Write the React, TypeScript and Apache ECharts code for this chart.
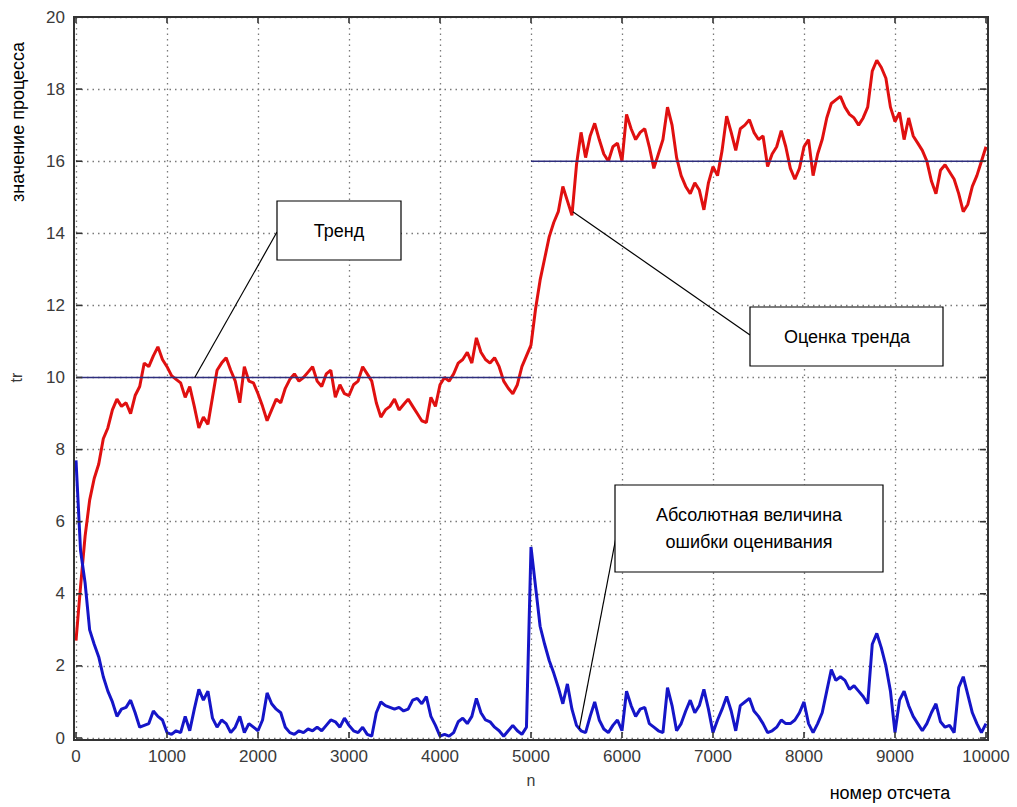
import React, { useEffect, useRef } from "react";
import * as echarts from "echarts";

const STEP = 50;
const trendEstimate = [
  2.7, 4.2, 5.6, 6.6, 7.2, 7.6, 8.3, 8.6, 9.1, 9.4,
  9.2, 9.3, 9.0, 9.5, 9.75, 10.4, 10.3, 10.6, 10.85, 10.5,
  10.3, 10.05, 9.95, 9.85, 9.45, 9.75, 9.2, 8.6, 8.9, 8.7,
  9.45, 10.2, 10.4, 10.55, 10.2, 9.9, 9.3, 10.3, 9.9, 9.85,
  9.55, 9.2, 8.8, 9.1, 9.4, 9.3, 9.7, 9.95, 10.1, 9.9,
  10.0, 10.15, 10.3, 9.9, 9.75, 10.1, 10.2, 9.45, 9.8, 9.55,
  9.5, 9.8, 9.9, 10.3, 10.1, 9.9, 9.3, 8.9, 9.1, 9.2,
  9.4, 9.1, 9.25, 9.4, 9.2, 9.0, 8.8, 8.75, 9.45, 9.2,
  9.8, 10.0, 9.9, 10.1, 10.4, 10.5, 10.7, 10.4, 11.1, 10.7,
  10.5, 10.4, 10.55, 10.3, 9.9, 9.7, 9.55, 9.8, 10.3, 10.6,
  10.9, 11.9, 12.7, 13.3, 13.9, 14.3, 14.6, 15.3, 14.9, 14.5,
  15.9, 16.8, 16.1, 16.7, 17.05, 16.6, 16.2, 16.0, 16.4, 16.5,
  16.0, 17.3, 16.9, 16.6, 16.8, 16.9, 16.4, 15.8, 16.2, 16.6,
  17.5, 17.0, 16.1, 15.6, 15.3, 15.1, 15.4, 15.2, 14.65, 15.4,
  15.85, 15.6, 16.3, 17.25, 16.8, 16.3, 16.9, 17.0, 17.15, 16.8,
  16.6, 16.7, 15.85, 16.2, 16.4, 16.85, 16.4, 15.8, 15.5, 15.8,
  16.4, 16.6, 15.6, 16.2, 16.6, 17.2, 17.6, 17.7, 17.8, 17.5,
  17.3, 17.2, 17.0, 17.2, 17.5, 18.5, 18.8, 18.6, 18.3, 17.5,
  17.1, 17.35, 16.6, 17.2, 16.7, 16.5, 16.3, 16.0, 15.45, 15.1,
  15.75, 15.9, 15.7, 15.5, 15.1, 14.6, 14.8, 15.3, 15.6, 16.0,
  16.4,
];
const absError = [
  7.7, 5.2, 4.3, 3.0, 2.6, 2.25, 1.7, 1.3, 1.0, 0.6,
  0.8, 0.85, 1.05, 0.7, 0.3, 0.35, 0.4, 0.75, 0.6, 0.5,
  0.15, 0.1, 0.2, 0.15, 0.6, 0.2, 0.8, 1.35, 1.05, 1.3,
  0.55, 0.3, 0.5, 0.4, 0.15, 0.3, 0.6, 0.15, 0.4, 0.3,
  0.2, 0.5, 1.25, 0.95, 0.8, 0.7, 0.3, 0.15, 0.1, 0.2,
  0.15, 0.25, 0.2, 0.3, 0.2, 0.35, 0.5, 0.45, 0.3, 0.55,
  0.35, 0.2, 0.15, 0.3, 0.1, 0.05, 0.7, 1.0, 0.9, 0.85,
  0.8, 0.85, 0.75, 0.8, 1.05, 1.1, 0.95, 1.15, 0.6, 0.35,
  0.05, 0.1, 0.05, 0.15, 0.45, 0.55, 0.4, 0.6, 1.1, 0.7,
  0.5, 0.45, 0.3, 0.2, 0.05, 0.2, 0.35, 0.2, 0.1, 0.3,
  5.3, 4.2, 3.1, 2.6, 2.15, 1.8, 1.4, 0.95, 1.5, 0.8,
  0.35, 0.2, 0.15, 0.6, 1.0, 0.5, 0.25, 0.15, 0.35, 0.5,
  0.2, 1.3, 0.9, 0.6, 0.8, 0.85, 0.4, 0.3, 0.2, 0.15,
  1.4, 0.9, 0.2, 0.4, 0.75, 1.05, 0.7, 0.9, 1.35, 0.8,
  0.15, 0.5, 0.8, 1.15, 0.75, 0.2, 0.9, 1.0, 1.1, 0.75,
  0.6, 0.4, 0.15, 0.2, 0.3, 0.5, 0.4, 0.4, 0.5, 0.7,
  1.0, 0.4, 0.15, 0.4, 0.7, 1.3, 1.9, 1.6, 1.7, 1.6,
  1.35, 1.45, 1.3, 1.15, 0.95, 2.6, 2.9, 2.5, 2.0, 1.3,
  0.15, 1.05, 1.3, 0.9, 0.6, 0.4, 0.2, 0.4, 0.7, 0.95,
  0.45, 0.3, 0.35, 0.15, 1.4, 1.7, 1.2, 0.7, 0.4, 0.15,
  0.4,
];
const trendLevelsX = [0, 5000, 5000, 10000];
const trendLevelsY = [10, 10, 16, 16];
const xTicks = [0, 1000, 2000, 3000, 4000, 5000, 6000, 7000, 8000, 9000, 10000];
const yTicks = [0, 2, 4, 6, 8, 10, 12, 14, 16, 18, 20];

const FONT = "'Liberation Sans', Arial, sans-serif";
const FRAME = "#333333";
const GRID = { left: 74, top: 17, right: 31, bottom: 69 };
const W = 1017;
const H = 807;

export default function App() {
  const ref = useRef<HTMLDivElement>(null);
  useEffect(() => {
    if (!ref.current) return;
    const chart = echarts.init(ref.current, null, { renderer: "svg" });
    const est = trendEstimate.map((v, i) => [i * STEP, v]);
    const err = absError.map((v, i) => [i * STEP, v]);
    const trend1 = [
      [trendLevelsX[0], trendLevelsY[0]],
      [trendLevelsX[1], trendLevelsY[1]],
    ];
    const trend2 = [
      [trendLevelsX[2], trendLevelsY[2]],
      [trendLevelsX[3], trendLevelsY[3]],
    ];
    const xMax = xTicks[xTicks.length - 1];
    const xStep = xTicks[1] - xTicks[0];
    const yMax = yTicks[yTicks.length - 1];
    const yStep = yTicks[1] - yTicks[0];
    const axisLabel = { color: "#3a3a3a", fontSize: 17, fontFamily: FONT, formatter: (v: number) => String(v) };
    const splitLine = { show: true, lineStyle: { color: "#7a7a7a", type: [1.5, 4] as any, width: 1.3 } };

    const frameRender = (_params: any, api: any) => {
      const a = api.coord([0, 0]);
      const b = api.coord([xMax, yMax]);
      const TL = 6;
      const ls = { stroke: FRAME, lineWidth: 1.6, fill: null };
      const children: any[] = [];
      xTicks.forEach((t) => {
        const px = api.coord([t, 0])[0];
        children.push({ type: "line", shape: { x1: px, y1: a[1], x2: px, y2: a[1] - TL }, style: ls });
        children.push({ type: "line", shape: { x1: px, y1: b[1], x2: px, y2: b[1] + TL }, style: ls });
      });
      yTicks.forEach((t) => {
        const py = api.coord([0, t])[1];
        children.push({ type: "line", shape: { x1: a[0], y1: py, x2: a[0] + TL, y2: py }, style: ls });
        children.push({ type: "line", shape: { x1: b[0], y1: py, x2: b[0] - TL, y2: py }, style: ls });
      });
      return { type: "group", children };
    };

    chart.setOption({
      animation: false,
      backgroundColor: "#ffffff",
      grid: { ...GRID, containLabel: false },
      xAxis: {
        type: "value",
        min: 0,
        max: xMax,
        interval: xStep,
        name: "n",
        nameLocation: "middle",
        nameGap: 34,
        nameTextStyle: { color: "#3a3a3a", fontSize: 16, fontFamily: FONT },
        axisLine: { show: false },
        axisTick: { show: false },
        splitLine,
        axisLabel: { ...axisLabel, margin: 10 },
      },
      yAxis: {
        type: "value",
        min: 0,
        max: yMax,
        interval: yStep,
        name: "tr",
        nameLocation: "middle",
        nameGap: 52,
        nameTextStyle: { color: "#3a3a3a", fontSize: 16, fontFamily: FONT },
        axisLine: { show: false },
        axisTick: { show: false },
        splitLine,
        axisLabel: { ...axisLabel, margin: 11 },
      },
      series: [
        { type: "line", data: est, showSymbol: false, lineStyle: { color: "#e01010", width: 3 }, z: 3 },
        { type: "line", data: err, showSymbol: false, lineStyle: { color: "#1515c8", width: 3 }, z: 3 },
        { type: "line", data: trend1, showSymbol: false, lineStyle: { color: "#2e2e7e", width: 1.6 }, z: 4 },
        { type: "line", data: trend2, showSymbol: false, lineStyle: { color: "#2e2e7e", width: 1.6 }, z: 4 },
        {
          type: "custom",
          data: [[xMax / 2, yMax / 2]],
          renderItem: frameRender,
          clip: false,
          silent: true,
          z: 20,
        },
      ],
    });

    const toPx = (x: number, y: number) => chart.convertToPixel({ gridIndex: 0 }, [x, y]) as number[];
    const p1 = toPx(1305, 10);
    const p2 = toPx(5460, 14.6);
    const p3 = toPx(5530, 0.25);
    const boxStyle = { fill: "#ffffff", stroke: "#000000", lineWidth: 1.2 };
    const txt = { fill: "#000000", fontSize: 18, fontFamily: FONT, align: "center", verticalAlign: "middle" };
    chart.setOption({
      graphic: [
        { type: "line", shape: { x1: 277, y1: 232, x2: p1[0], y2: p1[1] }, style: { stroke: "#000", lineWidth: 1.2 }, z: 30 },
        { type: "rect", shape: { x: 277, y: 201, width: 124, height: 59 }, style: boxStyle, z: 31 },
        { type: "text", x: 339, y: 231, style: { ...txt, text: "Тренд" }, z: 32 },

        { type: "line", shape: { x1: 750, y1: 335, x2: p2[0], y2: p2[1] }, style: { stroke: "#000", lineWidth: 1.2 }, z: 30 },
        { type: "rect", shape: { x: 750, y: 307, width: 193, height: 59 }, style: boxStyle, z: 31 },
        { type: "text", x: 847, y: 337, style: { ...txt, text: "Оценка тренда" }, z: 32 },

        { type: "line", shape: { x1: 617, y1: 532, x2: p3[0], y2: p3[1] }, style: { stroke: "#000", lineWidth: 1.2 }, z: 30 },
        { type: "rect", shape: { x: 615, y: 485, width: 268, height: 87 }, style: boxStyle, z: 31 },
        { type: "text", x: 749, y: 528, style: { ...txt, text: "Абсолютная величина\nошибки оценивания", lineHeight: 27 }, z: 32 },

        {
          type: "text",
          x: 18,
          y: 122,
          rotation: Math.PI / 2,
          style: { text: "значение процесса", fill: "#000", fontSize: 18, fontFamily: FONT, align: "center", verticalAlign: "middle" },
          z: 32,
        },
        {
          type: "text",
          x: 890,
          y: 793,
          style: { text: "номер отсчета", fill: "#000", fontSize: 18, fontFamily: FONT, align: "center", verticalAlign: "middle" },
          z: 32,
        },
      ],
    });
    return () => chart.dispose();
  }, []);
  return (
    <div style={{ position: "absolute", left: 0, top: 0, width: W, height: H }}>
      <div ref={ref} style={{ width: W, height: H, position: "absolute", left: 0, top: 0 }} />
      <div
        style={{
          position: "absolute",
          left: GRID.left - 1,
          top: GRID.top - 1,
          width: W - GRID.left - GRID.right,
          height: H - GRID.top - GRID.bottom,
          border: `2px solid ${FRAME}`,
          pointerEvents: "none",
          boxSizing: "content-box",
        }}
      />
    </div>
  );
}
